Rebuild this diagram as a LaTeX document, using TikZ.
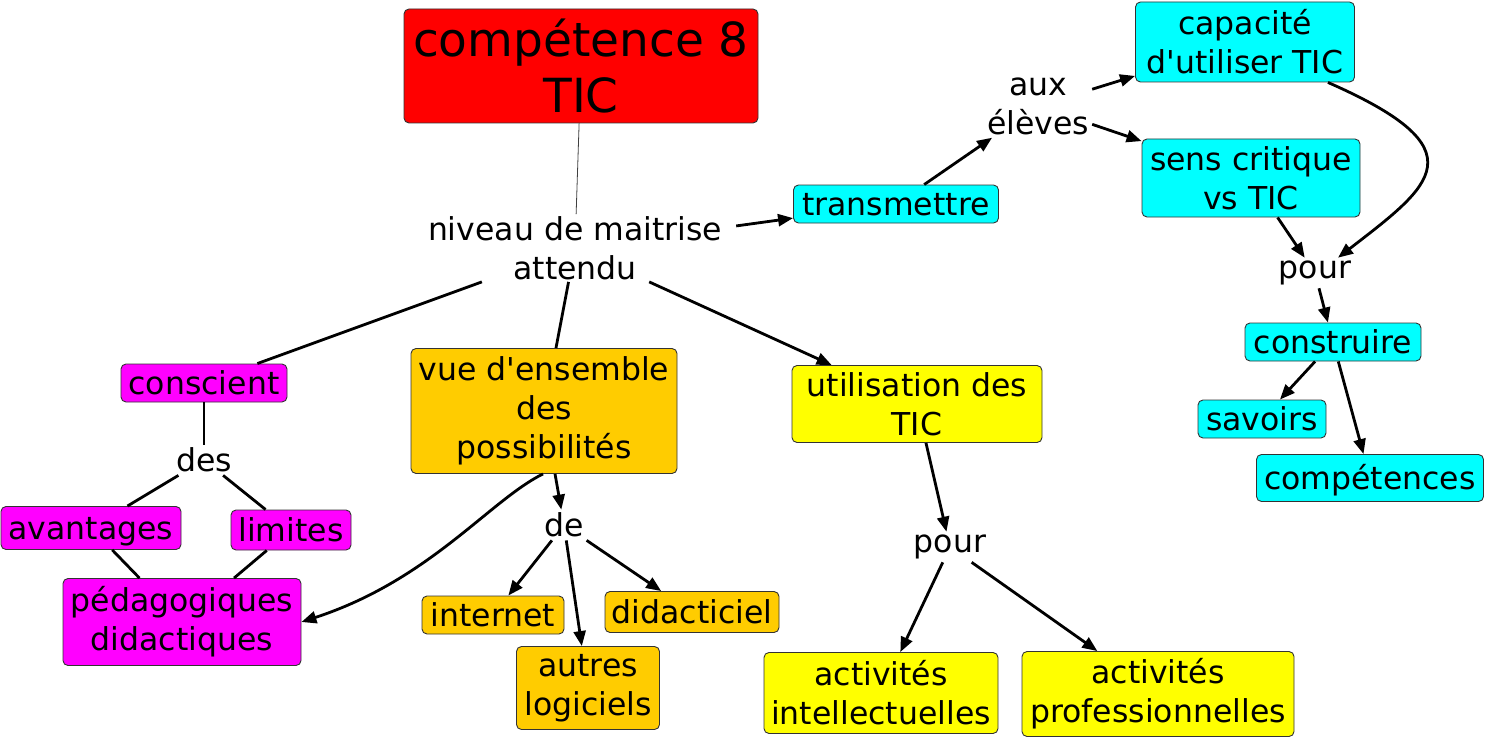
\documentclass[tikz,border=0pt]{standalone}
\usepackage{fontspec}
\setmainfont{DejaVu Sans}
\usetikzlibrary{arrows.meta}
\newcommand\mapfont{\fontsize{31.5}{39}\selectfont}
\newcommand\titlefont{\fontsize{47}{56}\selectfont}
\newcommand\apos{\textquotesingle}
\definecolor{redC}{HTML}{FF0000}
\definecolor{cyanC}{HTML}{00FFFF}
\definecolor{magC}{HTML}{FF00FF}
\definecolor{orangeC}{HTML}{FFCC00}
\definecolor{yellowC}{HTML}{FFFF00}

\begin{document}
\begin{tikzpicture}[
      x=1pt, y=-1pt,
      concept/.style={draw=black!80, rounded corners=5pt, line width=0.9pt,
                      align=center, inner sep=2pt, font=\mapfont},
      one/.style={concept, text height=27pt, text depth=4.5pt},
      link/.style={font=\mapfont, align=center, inner sep=3pt},
      plain/.style={line width=2.8pt},
      arrow/.style={plain, -{Triangle[length=15pt, width=12pt]}},
      thin/.style={line width=0.8pt, draw=black!75},
  ]
    \useasboundingbox (0,0) rectangle (1485,741);

    %% --- Root and main linking phrase ---
    \node[concept, fill=redC, minimum width=354pt, minimum height=114pt,
          font=\titlefont] (title) at (581,66) {compétence 8\\TIC};
    \node[link, inner xsep=14pt, inner ysep=2pt] (niveau) at (575,248)
      {niveau de maitrise\\attendu};
    \draw[thin] (title) -- (niveau);

    %% --- Transmettre branch (cyan) ---
    \node[one, fill=cyanC, minimum width=205pt, minimum height=38pt]
      (trans) at (896,204) {transmettre};
    \node[link] (aux) at (1038,106) {aux\\élèves};
    \node[concept, fill=cyanC, minimum width=219pt, minimum height=80pt]
      (cap) at (1245,42) {capacité\\d\apos utiliser TIC};
    \node[concept, fill=cyanC, minimum width=218pt, minimum height=78pt]
      (sens) at (1251,178) {sens critique\\vs TIC};
    \node[link] (pourR) at (1315,273) {pour};
    \node[one, fill=cyanC, minimum width=176pt, minimum height=38pt]
      (constr) at (1333,342) {construire};
    \node[one, fill=cyanC, minimum width=128pt, minimum height=38pt]
      (savoirs) at (1262,419) {savoirs};
    \node[one, fill=cyanC, minimum width=227pt, minimum height=47pt]
      (compet) at (1370,478) {compétences};

    \draw[arrow] (niveau) -- (trans);
    \draw[arrow] (trans) -- (aux);
    \draw[arrow] (aux) -- (cap);
    \draw[arrow] (aux) -- (sens);
    \draw[arrow] ([xshift=-27pt]cap.south east) .. controls (1482,150) and (1432,185)
      .. ([xshift=23pt]pourR.north);
    \draw[arrow] (sens) -- (pourR);
    \draw[arrow] (pourR) -- (constr);
    \draw[arrow] (constr) -- (savoirs);
    \draw[arrow] (constr) -- (compet);

    %% --- Conscient branch (magenta) ---
    \node[one, fill=magC, minimum width=166pt, minimum height=38pt]
      (consc) at (204,383) {conscient};
    \node[link] (des) at (204,460) {des};
    \node[one, fill=magC, minimum width=180pt, minimum height=43pt]
      (avant) at (91,528) {avantages};
    \node[one, fill=magC, minimum width=120pt, minimum height=40pt]
      (lim) at (291,530) {limites};
    \node[concept, fill=magC, minimum width=238pt, minimum height=87pt]
      (ped) at (182,622) {pédagogiques\\didactiques};

    \draw[plain] (niveau) -- (consc);
    \draw[plain] (consc) -- (des);
    \draw[plain] (des) -- (avant);
    \draw[plain] (des) -- (lim);
    \draw[plain] (avant) -- (ped);
    \draw[plain] (lim) -- (ped);

    %% --- Vue d'ensemble branch (orange) ---
    \node[concept, fill=orangeC, minimum width=266pt, minimum height=125pt]
      (vue) at (544,411) {vue d\apos ensemble\\des\\possibilités};
    \node[link] (de) at (564,525) {de};
    \node[one, fill=orangeC, minimum width=142pt, minimum height=38pt]
      (internet) at (493,615) {internet};
    \node[one, fill=orangeC, minimum width=174pt, minimum height=41pt]
      (didact) at (692,612) {didacticiel};
    \node[concept, fill=orangeC, minimum width=143pt, minimum height=83pt]
      (autres) at (588,688) {autres\\logiciels};

    \draw[plain] (niveau) -- (vue);
    \draw[arrow] ([xshift=-1pt]vue.south) .. controls (490,500) and (430,580) .. (ped.east);
    \draw[arrow] (vue) -- (de);
    \draw[arrow] (de) -- (internet);
    \draw[arrow] (de) -- (autres);
    \draw[arrow] (de) -- (didact);

    %% --- Utilisation branch (yellow) ---
    \node[concept, fill=yellowC, minimum width=250pt, minimum height=77pt]
      (util) at (917,404) {utilisation des\\TIC};
    \node[link] (pourM) at (950,547) {pour};
    \node[concept, fill=yellowC, minimum width=234pt, minimum height=81pt]
      (intel) at (881,693) {activités\\intellectuelles};
    \node[concept, fill=yellowC, minimum width=272pt, minimum height=85pt]
      (prof) at (1158,694) {activités\\professionnelles};

    \draw[arrow] (niveau) -- (util);
    \draw[arrow] (util) -- (pourM);
    \draw[arrow] (pourM) -- (intel);
    \draw[arrow] (pourM) -- (prof);
  \end{tikzpicture}
\end{document}
